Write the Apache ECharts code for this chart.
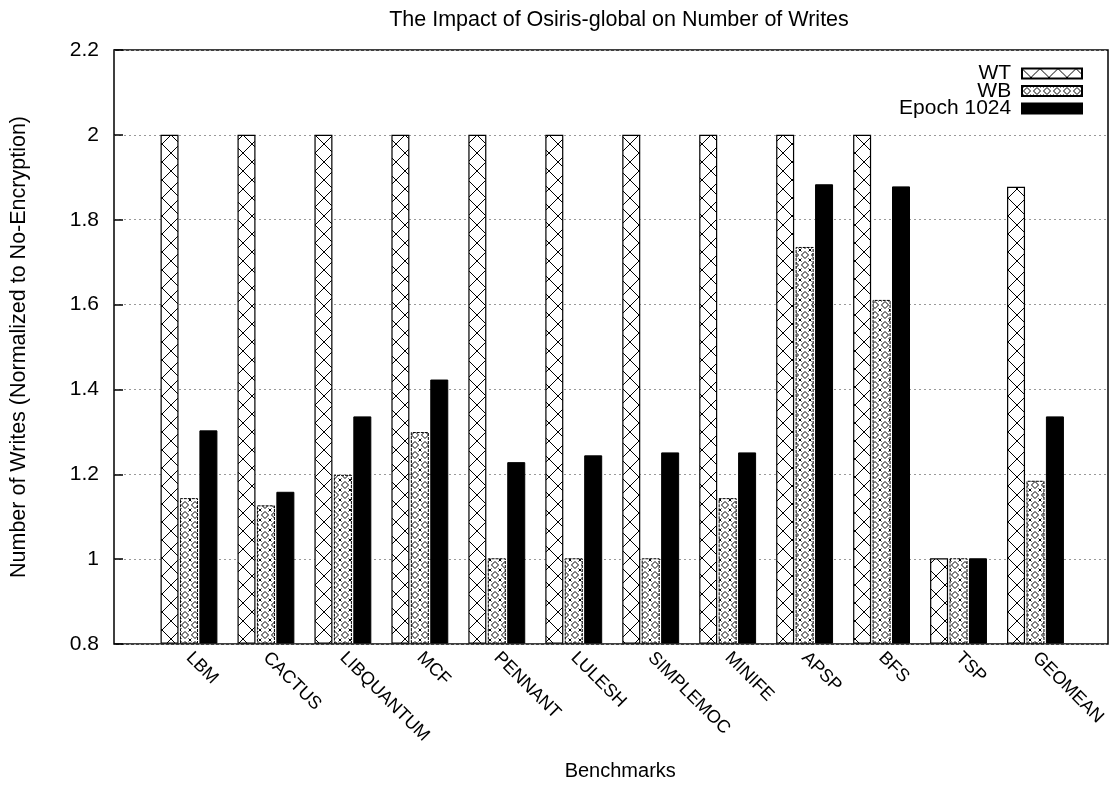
<!DOCTYPE html>
<html>
<head>
<meta charset="utf-8">
<script src="https://cdn.jsdelivr.net/npm/echarts@6/dist/echarts.min.js"></script>
<style>
  html, body { margin: 0; padding: 0; background: #fff; }
  #chart { width: 1109px; height: 786px; }
</style>
</head>
<body>
<div id="chart"></div>
<script>
// data
var categories = ['LBM', 'CACTUS', 'LIBQUANTUM', 'MCF', 'PENNANT', 'LULESH', 'SIMPLEMOC', 'MINIFE', 'APSP', 'BFS', 'TSP', 'GEOMEAN'];
var wtValues = [2, 2, 2, 2, 2, 2, 2, 2, 2, 2, 1, 1.877];
var wbValues = [1.142, 1.125, 1.197, 1.298, 1.0, 1.0, 1.0, 1.142, 1.735, 1.61, 1.0, 1.183];
var epochValues = [1.302, 1.157, 1.335, 1.422, 1.227, 1.243, 1.25, 1.25, 1.883, 1.878, 1.0, 1.335];
var seriesNames = ['WT', 'WB', 'Epoch 1024'];
var yMin = 0.8, yMax = 2.2, yStep = 0.2;

var FONT = "'Liberation Sans', Arial, sans-serif";

// crosshatch pattern for WT
function crossPattern() {
  var c = document.createElement('canvas');
  c.width = 18; c.height = 18;
  var g = c.getContext('2d');
  g.fillStyle = '#fff';
  g.fillRect(0, 0, 18, 18);
  g.strokeStyle = '#000';
  g.lineWidth = 1;
  g.beginPath();
  g.moveTo(0, 0); g.lineTo(18, 18);
  g.moveTo(18, 0); g.lineTo(0, 18);
  g.stroke();
  return c;
}

// small diamonds + little x marks for WB
function diamondPattern() {
  var c = document.createElement('canvas');
  c.width = 10; c.height = 10;
  var g = c.getContext('2d');
  g.fillStyle = '#fff';
  g.fillRect(0, 0, 10, 10);
  g.strokeStyle = '#000';
  g.lineWidth = 1;
  g.beginPath();
  g.moveTo(5, 1.5); g.lineTo(8.5, 5); g.lineTo(5, 8.5); g.lineTo(1.5, 5); g.closePath();
  g.stroke();
  g.beginPath();
  [[0, 0], [10, 0], [0, 10], [10, 10]].forEach(function (p) {
    g.moveTo(p[0] - 1.5, p[1] - 1.5); g.lineTo(p[0] + 1.5, p[1] + 1.5);
    g.moveTo(p[0] + 1.5, p[1] - 1.5); g.lineTo(p[0] - 1.5, p[1] + 1.5);
  });
  g.stroke();
  return c;
}

var chart = echarts.init(document.getElementById('chart'), null, { renderer: 'canvas' });

var barBase = {
  type: 'bar',
  xAxisIndex: 1,
  yAxisIndex: 1,
  barWidth: 18,
  barGap: '8%',
  animation: false
};

var option = {
  backgroundColor: '#fff',
  textStyle: { fontFamily: FONT, color: '#000' },
  title: {
    text: 'The Impact of Osiris-global on Number of Writes',
    left: 614,
    textAlign: 'center',
    top: 4,
    textStyle: { fontFamily: FONT, fontSize: 21.5, fontWeight: 'normal', color: '#000' }
  },
  legend: {
    orient: 'vertical',
    align: 'right',
    right: 21,
    top: 58,
    icon: 'rect',
    itemWidth: 60,
    itemHeight: 10,
    itemGap: -3.5,
    formatter: '{name} ',
    textStyle: { fontFamily: FONT, fontSize: 21, lineHeight: 18, color: '#000' },
    data: seriesNames
  },
  grid: [
    { left: 112, top: 50, right: 1, bottom: 142, show: true, borderColor: '#000', borderWidth: 1.5, backgroundColor: 'transparent' },
    { left: 150.5, top: 50, width: 924, bottom: 142 }
  ],
  xAxis: [
    { type: 'value', gridIndex: 0, min: 0, max: 1, show: false },
    {
      type: 'category', gridIndex: 1, data: categories,
      axisLine: { show: false }, axisTick: { show: false },
      axisLabel: { rotate: -45, margin: 12, fontFamily: FONT, fontSize: 18, color: '#000', interval: 0 },
      name: 'Benchmarks', nameLocation: 'middle', nameGap: 118,
      nameTextStyle: { fontFamily: FONT, fontSize: 20, color: '#000', padding: [0, 0, 0, 16] }
    }
  ],
  yAxis: [
    {
      type: 'value', gridIndex: 0, min: yMin, max: yMax, interval: yStep,
      axisLine: { show: false },
      axisTick: { show: true, inside: true, length: 9, lineStyle: { color: '#000', width: 1.5 } },
      axisLabel: { fontFamily: FONT, fontSize: 21, color: '#000', margin: 15 },
      splitLine: { show: true, lineStyle: { color: '#999', type: [2, 3], width: 1 } },
      name: 'Number of Writes (Normalized to No-Encryption)',
      nameLocation: 'middle', nameGap: 84,
      nameTextStyle: { fontFamily: FONT, fontSize: 21.5, color: '#000' }
    },
    { type: 'value', gridIndex: 1, min: yMin, max: yMax, show: false }
  ],
  series: [
    Object.assign({}, barBase, {
      name: seriesNames[0], data: wtValues,
      itemStyle: { color: { image: crossPattern(), repeat: 'repeat' }, borderColor: '#000', borderWidth: 1.2 }
    }),
    Object.assign({}, barBase, {
      name: seriesNames[1], data: wbValues,
      itemStyle: { color: { image: diamondPattern(), repeat: 'repeat' }, borderColor: '#000', borderWidth: 1, borderType: [3, 1] }
    }),
    Object.assign({}, barBase, {
      name: seriesNames[2], data: epochValues,
      itemStyle: { color: '#000', borderColor: '#000', borderWidth: 1 }
    })
  ]
};

chart.setOption(option);
</script>
</body>
</html>
